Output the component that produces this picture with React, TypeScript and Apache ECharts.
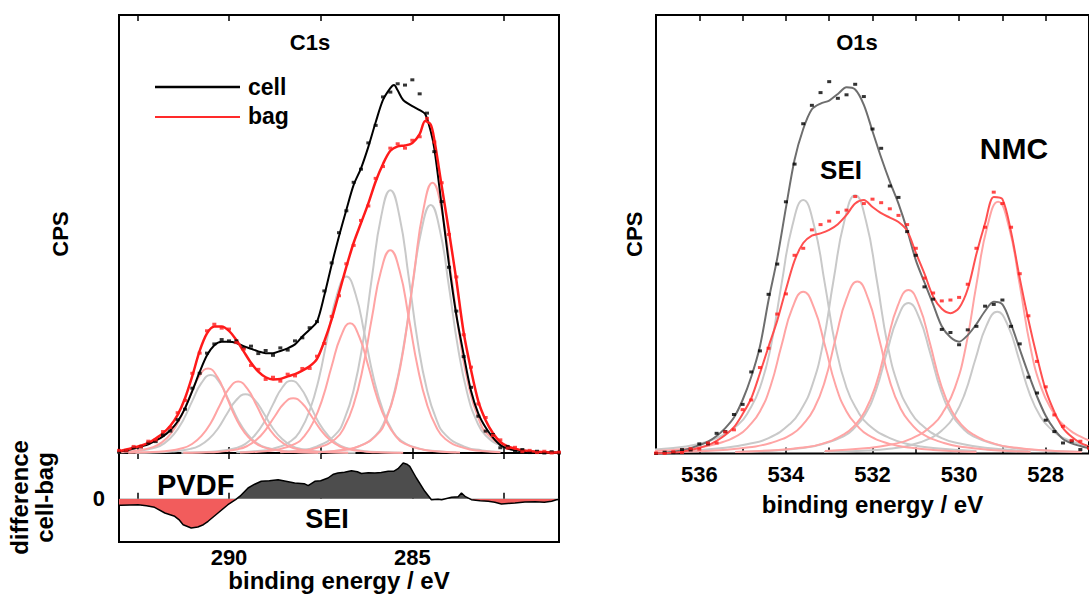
import React, { useEffect, useRef } from "react";
import * as echarts from "echarts";

const FONT = '"Liberation Sans", Arial, Helvetica, sans-serif';

// ---------- C1s (left panel) ----------
const c1sTickValues = [282.5, 285, 287.5, 290, 292.5];
const c1sLabelValues = [285, 290];

const c1sCellFit: number[][] = [[293,0.3],[292.8,0.6],[292.6,1.0],[292.4,1.5],[292.2,2.0],[292,2.8],[291.8,3.8],[291.6,5.2],[291.4,7.2],[291.2,10.2],[291,14.2],[290.8,18.5],[290.6,22.3],[290.4,24.6],[290.2,25.4],[290,25.4],[289.8,25.1],[289.6,24.4],[289.4,23.8],[289.2,23.2],[289,22.8],[288.8,22.8],[288.6,23.3],[288.4,23.9],[288.2,24.8],[288,26.6],[287.8,28.2],[287.6,30.0],[287.4,36.0],[287.2,43.0],[287,49.5],[286.8,55.5],[286.6,61.2],[286.4,65.0],[286.2,69.9],[286,75.5],[285.8,80.6],[285.6,83.3],[285.5,84.0],[285.4,82.8],[285.25,80.6],[285,79.2],[284.8,78.3],[284.65,77.4],[284.5,73.5],[284.4,69.5],[284.2,56.5],[284,43.0],[283.8,31.5],[283.6,22.5],[283.4,14.2],[283.2,9.0],[283,5.8],[282.8,3.5],[282.6,1.8],[282.4,1.0],[282.2,0.6],[282,0.4],[281.6,0.2],[281,0.1]];

const c1sBagFit: number[][] = [[293,0.4],[292.8,0.8],[292.6,1.2],[292.4,1.7],[292.2,2.3],[292,3.3],[291.8,4.5],[291.6,6.2],[291.4,8.7],[291.2,12.5],[291,17.6],[290.8,23.3],[290.6,27.3],[290.4,28.9],[290.2,28.9],[290,27.9],[289.8,25.8],[289.6,23.2],[289.4,20.6],[289.2,18.6],[289,17.3],[288.8,16.8],[288.6,16.9],[288.4,17.5],[288.2,18.0],[288,18.8],[287.8,19.8],[287.6,21.5],[287.4,25.5],[287.2,30.5],[287,36.5],[286.8,42.5],[286.6,48.0],[286.4,52.5],[286.2,57.0],[286,62.0],[285.8,66.0],[285.6,69.0],[285.4,70.0],[285.2,70.2],[285,70.8],[284.8,72.8],[284.65,75.8],[284.5,75.0],[284.4,71.5],[284.2,61.0],[284,50.5],[283.8,39.5],[283.6,27.5],[283.4,19.0],[283.2,11.8],[283,7.5],[282.8,4.5],[282.6,2.5],[282.4,1.5],[282.2,1.0],[282,0.6],[281.6,0.3],[281,0.1]];

const c1sCellDots: number[][] = [[293,0.2],[292.8,0.5],[292.6,1.2],[292.4,1.4],[292.2,2.3],[292,2.6],[291.8,4.1],[291.6,5.0],[291.4,7.6],[291.2,10.0],[291,14.8],[290.8,18.2],[290.6,22.8],[290.4,24.9],[290.2,25.9],[290,25.6],[289.8,25.6],[289.6,24.0],[289.4,24.4],[289.2,22.7],[289,23.4],[288.8,22.3],[288.6,24.0],[288.4,23.5],[288.2,25.6],[288,26.3],[287.8,28.6],[287.6,30.0],[287.4,37.0],[287.2,43.4],[287,50.3],[286.8,55.3],[286.6,61.8],[286.4,64.8],[286.2,70.8],[286,74.8],[285.8,81.3],[285.6,82.4],[285.4,84.3],[285.2,84.0],[285,85.2],[284.8,82.0],[284.6,77.6],[284.4,68.8],[284.2,57.4],[284,42.4],[283.8,32.4],[283.6,22.0],[283.4,15.0],[283.2,8.4],[283,5.0],[282.8,4.2],[282.6,1.2],[282.4,1.5],[282.2,0.3],[282,0.8],[281.8,0.1],[281.6,0.4],[281.4,0.0],[281.2,0.3],[281,0.0]];

const c1sBagDots: number[][] = [[293,0.6],[292.8,0.6],[292.6,1.5],[292.4,1.4],[292.2,2.7],[292,3.0],[291.8,4.9],[291.6,5.8],[291.4,9.2],[291.2,12.0],[291,18.2],[290.8,22.8],[290.6,27.9],[290.4,29.4],[290.2,28.5],[290,28.3],[289.8,25.2],[289.6,23.7],[289.4,20.0],[289.2,19.1],[289,16.8],[288.8,17.3],[288.6,16.4],[288.4,18.0],[288.2,17.6],[288,19.3],[287.8,19.3],[287.6,22.1],[287.4,25.0],[287.2,31.2],[287,35.9],[286.8,43.2],[286.6,47.4],[286.4,53.1],[286.2,56.4],[286,62.7],[285.8,65.4],[285.6,69.6],[285.4,70.6],[285.2,69.6],[285,71.4],[284.8,72.2],[284.6,76.4],[284.4,71.0],[284.2,61.7],[284,49.9],[283.8,40.2],[283.6,27.0],[283.4,19.6],[283.2,11.2],[283,8.1],[282.8,4.0],[282.6,3.0],[282.4,1.1],[282.2,1.3],[282,0.3],[281.8,0.6],[281.6,0.1],[281.4,0.4],[281.2,0.0],[281,0.2]];

const c1sCellPeak1: number[][] = [[287.5,0.07],[288,0.18],[288.5,0.45],[289,1.25],[289.25,2.3],[289.5,4.3],[289.75,7.5],[290,11.9],[290.25,16.0],[290.5,17.8],[290.75,16.0],[291,11.9],[291.25,7.5],[291.5,4.3],[291.75,2.3],[292,1.25],[292.5,0.45],[293,0.18]];
const c1sCellPeak2: number[][] = [[286.55,0.05],[287.05,0.13],[287.55,0.34],[288.05,0.94],[288.3,1.7],[288.55,3.2],[288.8,5.6],[289.05,9.0],[289.3,12.1],[289.55,13.4],[289.8,12.1],[290.05,9.0],[290.3,5.6],[290.55,3.2],[290.8,1.7],[291.05,0.94],[291.55,0.34],[292.05,0.13],[292.55,0.05]];
const c1sCellPeak3: number[][] = [[285.3,0.07],[285.8,0.17],[286.3,0.41],[286.8,1.16],[287.05,2.1],[287.3,4.0],[287.55,6.9],[287.8,11.1],[288.05,14.9],[288.3,16.5],[288.55,14.9],[288.8,11.1],[289.05,6.9],[289.3,4.0],[289.55,2.1],[289.8,1.16],[290.3,0.41],[290.8,0.17],[291.3,0.07]];
const c1sCellPeak4: number[][] = [[283.8,0.16],[284.3,0.4],[284.8,1.0],[285.3,2.8],[285.55,5.2],[285.8,9.7],[286.05,16.9],[286.3,27.0],[286.55,36.3],[286.8,40.3],[287.05,36.3],[287.3,27.0],[287.55,16.9],[287.8,9.7],[288.05,5.2],[288.3,2.8],[288.8,1.0],[289.3,0.4],[289.8,0.16]];
const c1sCellPeak5: number[][] = [[282.6,0.24],[283.1,0.6],[283.6,1.5],[284.1,4.2],[284.35,7.8],[284.6,14.4],[284.85,25.2],[285.1,40.2],[285.35,54],[285.6,60],[285.85,54],[286.1,40.2],[286.35,25.2],[286.6,14.4],[286.85,7.8],[287.1,4.2],[287.6,1.5],[288.1,0.6],[288.6,0.24]];
const c1sCellPeak6: number[][] = [[281.5,0.23],[282,0.57],[282.5,1.4],[283,4.0],[283.25,7.4],[283.5,13.6],[283.75,23.8],[284,37.9],[284.25,50.9],[284.5,56.6],[284.75,50.9],[285,37.9],[285.25,23.8],[285.5,13.6],[285.75,7.4],[286,4.0],[286.5,1.4],[287,0.57],[287.5,0.23]];

const c1sBagPeak1: number[][] = [[287.57,0.08],[288.07,0.19],[288.57,0.48],[289.07,1.35],[289.32,2.5],[289.57,4.6],[289.82,8.1],[290.07,12.9],[290.32,17.4],[290.57,19.3],[290.82,17.4],[291.07,12.9],[291.32,8.1],[291.57,4.6],[291.82,2.5],[292.07,1.35],[292.57,0.48],[293.07,0.19]];
const c1sBagPeak2: number[][] = [[286.75,0.07],[287.25,0.16],[287.75,0.41],[288.25,1.14],[288.5,2.1],[288.75,3.9],[289,6.8],[289.25,10.9],[289.5,14.7],[289.75,16.3],[290,14.7],[290.25,10.9],[290.5,6.8],[290.75,3.9],[291,2.1],[291.25,1.14],[291.75,0.41],[292.25,0.16],[292.75,0.07]];
const c1sBagPeak3: number[][] = [[285.25,0.05],[285.75,0.13],[286.25,0.31],[286.75,0.88],[287,1.6],[287.25,3.0],[287.5,5.3],[287.75,8.4],[288,11.3],[288.25,12.5],[288.5,11.3],[288.75,8.4],[289,5.3],[289.25,3.0],[289.5,1.6],[289.75,0.88],[290.25,0.31],[290.75,0.13],[291.25,0.05]];
const c1sBagPeak4: number[][] = [[283.7,0.12],[284.2,0.3],[284.7,0.74],[285.2,2.1],[285.45,3.8],[285.7,7.1],[285.95,12.4],[286.2,19.8],[286.45,26.6],[286.7,29.6],[286.95,26.6],[287.2,19.8],[287.45,12.4],[287.7,7.1],[287.95,3.8],[288.2,2.1],[288.7,0.74],[289.2,0.3],[289.7,0.12]];
const c1sBagPeak5: number[][] = [[282.6,0.19],[283.1,0.46],[283.6,1.16],[284.1,3.2],[284.35,6.0],[284.6,11.1],[284.85,19.4],[285.1,31.0],[285.35,41.7],[285.6,46.3],[285.85,41.7],[286.1,31.0],[286.35,19.4],[286.6,11.1],[286.85,6.0],[287.1,3.2],[287.6,1.16],[288.1,0.46],[288.6,0.19]];
const c1sBagPeak6: number[][] = [[281.45,0.25],[281.95,0.62],[282.45,1.54],[282.95,4.3],[283.2,8.0],[283.45,14.8],[283.7,25.9],[283.95,41.3],[284.2,55.5],[284.45,61.7],[284.7,55.5],[284.95,41.3],[285.2,25.9],[285.45,14.8],[285.7,8.0],[285.95,4.3],[286.45,1.54],[286.95,0.62],[287.45,0.25]];

// difference cell - bag
const c1sDiff: number[][] = [[293,-6.5],[292.94,-6.6],[292.7,-6.2],[292.48,-6.0],[292.25,-7.0],[292.03,-8.6],[291.75,-14.3],[291.48,-17.6],[291.35,-21.5],[291.25,-26],[291.03,-29.3],[290.85,-28.3],[290.7,-26.0],[290.57,-22.6],[290.3,-14.3],[290.03,-6],[289.82,-1],[289.7,2.5],[289.48,10.7],[289.3,14.5],[289.12,17.4],[288.9,18.0],[288.66,19],[288.45,17.5],[288.21,15.7],[287.95,15.0],[287.84,13.0],[287.66,17.4],[287.5,18.0],[287.3,20.7],[287.15,24.5],[287.03,25.7],[286.85,26.5],[286.66,28],[286.5,27.0],[286.39,25.2],[286.2,26.0],[286.02,25.7],[285.85,26.2],[285.66,27.4],[285.5,27.5],[285.39,30],[285.25,35.7],[285.15,34.5],[285.07,32.4],[284.89,20.7],[284.66,7.4],[284.48,-1],[284.3,-0.5],[284.2,-1],[283.93,1.4],[283.75,2.0],[283.66,5.7],[283.55,2.0],[283.39,-1],[283.15,-2.0],[282.93,-2.6],[282.75,-3.5],[282.57,-5.3],[282.4,-4.8],[282.2,-4.3],[281.93,-3.3],[281.65,-3.0],[281.4,-3.6],[281.2,-2.5],[281.07,-1],[281,-0.8]];

// ---------- O1s (right panel) ----------
const o1sLabelValues = [528, 530, 532, 534, 536];

const o1sCellFit: number[][] = [[537,0.1],[536.8,0.2],[536.6,0.4],[536.4,0.7],[536.2,1.2],[536,1.9],[535.8,2.7],[535.6,4.0],[535.4,5.8],[535.2,8.2],[535,12.2],[534.8,17.5],[534.6,24.4],[534.4,35.0],[534.2,44.5],[534,56.0],[533.8,67.0],[533.6,74.0],[533.4,78.5],[533.2,79.8],[533,80.5],[532.8,82.0],[532.6,83.5],[532.4,83.0],[532.2,79.5],[532,73.5],[531.8,67.5],[531.6,62.0],[531.4,57.0],[531.2,51.0],[531,44.1],[530.8,39.0],[530.6,34.0],[530.4,29.0],[530.2,26.5],[530,25.5],[529.8,27.0],[529.6,29.5],[529.4,32.5],[529.2,34.6],[529,34.0],[528.8,29.5],[528.6,23.8],[528.4,18.2],[528.2,13.0],[528,8.6],[527.8,5.5],[527.6,3.3],[527.4,2.3],[527.2,1.7],[527,1.2]];

const o1sBagFit: number[][] = [[537,0.0],[536.8,0.1],[536.6,0.2],[536.4,0.4],[536.2,0.8],[536,1.3],[535.8,1.9],[535.6,2.9],[535.4,4.2],[535.2,6.0],[535,9.0],[534.8,12.6],[534.6,18.3],[534.4,24.4],[534.2,30.3],[534,37.4],[533.8,44.0],[533.6,48.0],[533.4,49.7],[533.2,50.2],[533,51.0],[532.8,52.3],[532.6,54.4],[532.4,57.0],[532.2,57.8],[532,56.2],[531.8,54.8],[531.6,53.8],[531.4,52.8],[531.2,50.8],[531,45.8],[530.8,41.0],[530.6,35.8],[530.4,33.0],[530.2,32.0],[530,33.2],[529.8,37.5],[529.6,45.5],[529.4,52.5],[529.2,58.5],[529,58.0],[528.8,50.5],[528.6,40.0],[528.4,30.5],[528.2,22.0],[528,14.5],[527.8,9.5],[527.6,5.8],[527.4,3.8],[527.2,2.4],[527,1.6]];

const o1sCellDots: number[][] = [[537,0.0],[536.8,0.3],[536.6,0.2],[536.4,0.9],[536.2,0.8],[536,2.2],[535.8,2.2],[535.6,4.6],[535.4,5.0],[535.2,8.9],[535,11.2],[534.8,18.6],[534.6,23.4],[534.4,36.3],[534.2,43.2],[534,57.4],[533.8,66.0],[533.6,75.2],[533.4,79.4],[533.2,82.3],[533,84.8],[532.8,81.0],[532.6,81.8],[532.4,84.2],[532.2,81.4],[532,74.0],[531.8,69.6],[531.6,61.0],[531.4,58.4],[531.2,50.6],[531,45.2],[530.8,38.0],[530.6,35.2],[530.4,28.3],[530.2,27.6],[530,24.8],[529.8,28.2],[529.6,29.0],[529.4,33.6],[529.2,34.0],[529,35.0],[528.8,29.0],[528.6,25.0],[528.4,17.4],[528.2,13.8],[528,7.6],[527.8,5.0],[527.6,2.4],[527.4,2.8],[527.2,0.9],[527,1.4]];

const o1sBagDots: number[][] = [[537,0.1],[536.8,0.0],[536.6,0.4],[536.4,0.2],[536.2,1.1],[536,1.0],[535.8,2.4],[535.6,2.4],[535.4,4.9],[535.2,5.4],[535,10.0],[534.8,12.2],[534.6,19.6],[534.4,24.0],[534.2,31.8],[534,36.4],[533.8,45.2],[533.6,46.8],[533.4,51.0],[533.2,52.2],[533,53.0],[532.8,55.0],[532.6,55.5],[532.4,58.6],[532.2,57.0],[532,58.0],[531.8,57.2],[531.6,55.8],[531.4,54.3],[531.2,52.2],[531,46.8],[530.8,40.0],[530.6,36.6],[530.4,34.8],[530.2,35.0],[530,35.6],[529.8,38.6],[529.6,46.8],[529.4,51.6],[529.2,59.6],[529,57.0],[528.8,51.6],[528.6,41.0],[528.4,31.4],[528.2,21.0],[528,15.2],[527.8,8.8],[527.6,6.2],[527.4,3.0],[527.2,2.8],[527,1.2]];

const o1sCellPeak1: number[][] = [[529.6,0.58],[530.6,1.27],[531.1,2.0],[531.6,3.5],[532.1,6.6],[532.35,9.8],[532.6,15.0],[532.85,24.3],[533.1,38.7],[533.35,52.0],[533.6,57.8],[533.85,52.0],[534.1,38.7],[534.35,24.3],[534.6,15.0],[534.85,9.8],[535.1,6.6],[535.6,3.5],[536.1,2.0],[536.6,1.27],[537.6,0.58]];
const o1sCellPeak2: number[][] = [[528.4,0.59],[529.4,1.3],[529.9,2.1],[530.4,3.5],[530.9,6.8],[531.15,10.0],[531.4,15.3],[531.65,24.7],[531.9,39.5],[532.15,53.0],[532.4,58.9],[532.65,53.0],[532.9,39.5],[533.15,24.7],[533.4,15.3],[533.65,10.0],[533.9,6.8],[534.4,3.5],[534.9,2.1],[535.4,1.3],[536.4,0.59]];
const o1sCellPeak3: number[][] = [[527.17,0.34],[528.17,0.75],[528.67,1.2],[529.17,2.1],[529.67,3.9],[529.92,5.8],[530.17,8.9],[530.42,14.4],[530.67,23.0],[530.92,30.9],[531.17,34.3],[531.42,30.9],[531.67,23.0],[531.92,14.4],[532.17,8.9],[532.42,5.8],[532.67,3.9],[533.17,2.1],[533.67,1.2],[534.17,0.75],[535.17,0.34]];
const o1sCellPeak4: number[][] = [[525.12,0.32],[526.12,0.71],[526.62,1.1],[527.12,1.9],[527.62,3.7],[527.87,5.5],[528.12,8.4],[528.37,13.6],[528.62,21.6],[528.87,29.1],[529.12,32.3],[529.37,29.1],[529.62,21.6],[529.87,13.6],[530.12,8.4],[530.37,5.5],[530.62,3.7],[531.12,1.9],[531.62,1.1],[532.12,0.71],[533.12,0.32]];

const o1sBagPeak1: number[][] = [[529.6,0.37],[530.6,0.81],[531.1,1.3],[531.6,2.2],[532.1,4.2],[532.35,6.3],[532.6,9.6],[532.85,15.5],[533.1,24.7],[533.35,33.2],[533.6,36.9],[533.85,33.2],[534.1,24.7],[534.35,15.5],[534.6,9.6],[534.85,6.3],[535.1,4.2],[535.6,2.2],[536.1,1.3],[536.6,0.81],[537.6,0.37]];
const o1sBagPeak2: number[][] = [[528.35,0.39],[529.35,0.86],[529.85,1.4],[530.35,2.4],[530.85,4.5],[531.1,6.7],[531.35,10.2],[531.6,16.5],[531.85,26.3],[532.1,35.3],[532.35,39.2],[532.6,35.3],[532.85,26.3],[533.1,16.5],[533.35,10.2],[533.6,6.7],[533.85,4.5],[534.35,2.4],[534.85,1.4],[535.35,0.86],[536.35,0.39]];
const o1sBagPeak3: number[][] = [[527.17,0.37],[528.17,0.82],[528.67,1.3],[529.17,2.2],[529.67,4.3],[529.92,6.3],[530.17,9.7],[530.42,15.7],[530.67,25.0],[530.92,33.6],[531.17,37.3],[531.42,33.6],[531.67,25.0],[531.92,15.7],[532.17,9.7],[532.42,6.3],[532.67,4.3],[533.17,2.2],[533.67,1.3],[534.17,0.82],[535.17,0.37]];
const o1sBagPeak4: number[][] = [[525.1,0.57],[526.1,1.26],[526.6,2.0],[527.1,3.4],[527.6,6.6],[527.85,9.8],[528.1,14.9],[528.35,24.1],[528.6,38.5],[528.85,51.7],[529.1,57.4],[529.35,51.7],[529.6,38.5],[529.85,24.1],[530.1,14.9],[530.35,9.8],[530.6,6.6],[531.1,3.4],[531.6,2.0],[532.1,1.26],[533.1,0.57]];

const C_GRAY = "#c9c9c9";
const C_PINK = "#ffa4a4";

export default function App() {
  const ref = useRef<HTMLDivElement>(null);

  useEffect(() => {
    if (!ref.current) return;
    const chart = echarts.init(ref.current, null, { renderer: "svg" });

    const txt = (size: number) => ({ fontFamily: FONT, fontWeight: "bold" as const, fontSize: size, color: "#000" });

    const line = (data: number[][], xi: number, yi: number, color: string, width: number, smooth: number | boolean = 0.5) => ({
      type: "line", data, xAxisIndex: xi, yAxisIndex: yi, showSymbol: false, symbol: "none", smooth,
      lineStyle: { color, width }, silent: true, z: 2,
    });
    const dots = (data: number[][], xi: number, yi: number, color: string) => ({
      type: "scatter", data, xAxisIndex: xi, yAxisIndex: yi, symbol: "rect", symbolSize: [4, 3],
      itemStyle: { color }, silent: true, z: 4,
    });

    const series: any[] = [];
    [c1sCellPeak1, c1sCellPeak2, c1sCellPeak3, c1sCellPeak4, c1sCellPeak5, c1sCellPeak6].forEach((d) => series.push(line(d, 0, 0, C_GRAY, 2)));
    [c1sBagPeak1, c1sBagPeak2, c1sBagPeak3, c1sBagPeak4, c1sBagPeak5, c1sBagPeak6].forEach((d) => series.push(line(d, 0, 0, C_PINK, 2)));
    series.push({ ...line(c1sCellFit, 0, 0, "#000", 2, 0.3), z: 3 });
    series.push({ ...line(c1sBagFit, 0, 0, "#ff1a1a", 2.5, 0.3), z: 3 });
    series.push(dots(c1sCellDots, 0, 0, "#000"));
    series.push(dots(c1sBagDots, 0, 0, "#ff1a1a"));

    const diffFillIndex = series.length;
    series.push({
      type: "line", data: c1sDiff, xAxisIndex: 2, yAxisIndex: 1, symbol: "none", showSymbol: false,
      lineStyle: { width: 0 }, areaStyle: { opacity: 1 }, silent: true, z: 2,
    });
    series.push({ ...line(c1sDiff, 2, 1, "#000", 1.5, false), z: 3 });

    [o1sCellPeak1, o1sCellPeak2, o1sCellPeak3, o1sCellPeak4].forEach((d) => series.push(line(d, 4, 2, C_GRAY, 2)));
    [o1sBagPeak1, o1sBagPeak2, o1sBagPeak3, o1sBagPeak4].forEach((d) => series.push(line(d, 4, 2, C_PINK, 2)));
    series.push({ ...line(o1sCellFit, 4, 2, "#6e6e6e", 2, 0.3), z: 3 });
    series.push({ ...line(o1sBagFit, 4, 2, "#ff5050", 2, 0.3), z: 3 });
    series.push(dots(o1sCellDots, 4, 2, "#000"));
    series.push(dots(o1sBagDots, 4, 2, "#ff1a1a"));

    const tick = (custom?: number[]) => ({
      show: true, inside: true, length: 6, lineStyle: { color: "#000", width: 1.5 },
      ...(custom ? { customValues: custom } : {}),
    });
    const baseX = (grid: number, min: number, max: number) => ({
      type: "value", gridIndex: grid, min, max, inverse: true,
      axisLine: { show: false }, splitLine: { show: false },
    });

    const option: any = {
      animation: false,
      backgroundColor: "#fff",
      grid: [
        { left: 119, top: 15, width: 440, height: 438, show: true, borderColor: "#000", borderWidth: 2 },
        { left: 119, top: 453, width: 440, height: 89, show: true, borderColor: "#000", borderWidth: 2 },
        { left: 656, top: 15, width: 440, height: 438.5, show: true, borderColor: "#000", borderWidth: 2 },
      ],
      xAxis: [
        { ...baseX(0, 281, 293), position: "bottom", axisTick: tick(c1sTickValues), axisLabel: { show: false } },
        { ...baseX(0, 281, 293), position: "top", axisTick: tick(c1sTickValues), axisLabel: { show: false } },
        {
          ...baseX(1, 281, 293), position: "bottom", axisTick: tick(c1sTickValues),
          axisLabel: { ...txt(22), margin: 4, customValues: c1sLabelValues },
          name: "binding energy / eV", nameLocation: "middle", nameGap: 26, nameTextStyle: txt(24),
        },
        { ...baseX(1, 281, 293), position: "top", axisTick: tick(c1sTickValues), axisLabel: { show: false } },
        {
          ...baseX(2, 527, 537), position: "bottom", interval: 1, axisTick: tick(),
          axisLabel: { ...txt(22), margin: 10, customValues: o1sLabelValues },
          name: "binding energy / eV", nameLocation: "middle", nameGap: 39, nameTextStyle: txt(24),
        },
        { ...baseX(2, 527, 537), position: "top", interval: 1, axisTick: tick(), axisLabel: { show: false } },
      ],
      yAxis: [
        {
          type: "value", gridIndex: 0, min: 0, max: 100, axisLine: { show: false }, axisTick: { show: false },
          axisLabel: { show: false }, splitLine: { show: false },
          name: "CPS", nameLocation: "middle", nameRotate: 90, nameGap: 48, nameTextStyle: txt(22),
        },
        {
          type: "value", gridIndex: 1, min: -43.3, max: 45.7, axisLine: { show: false }, axisTick: { show: false },
          axisLabel: { ...txt(22), margin: 14, customValues: [0] }, splitLine: { show: false },
          name: "difference\ncell-bag", nameLocation: "middle", nameRotate: 90, nameGap: 62,
          nameTextStyle: { ...txt(24), lineHeight: 25 },
        },
        {
          type: "value", gridIndex: 2, min: 0, max: 100, axisLine: { show: false }, axisTick: { show: false },
          axisLabel: { show: false }, splitLine: { show: false },
          name: "CPS", nameLocation: "middle", nameRotate: 90, nameGap: 11, nameTextStyle: txt(22),
        },
      ],
      visualMap: [
        {
          type: "piecewise", show: false, seriesIndex: diffFillIndex, dimension: 1,
          pieces: [
            { gte: -100, lt: 0, color: "#f25c5c" },
            { gte: 0, lte: 100, color: "#4d4d4d" },
          ],
        },
      ],
      graphic: [
        { type: "line", shape: { x1: 155, y1: 87, x2: 240, y2: 87 }, style: { stroke: "#000", lineWidth: 2.5 }, silent: true },
        { type: "line", shape: { x1: 155, y1: 117, x2: 240, y2: 117 }, style: { stroke: "#ff2a2a", lineWidth: 2 }, silent: true },
        { type: "text", x: 248, y: 87, style: { text: "cell", font: `bold 23px ${FONT}`, fill: "#000", verticalAlign: "middle" }, silent: true },
        { type: "text", x: 248, y: 116, style: { text: "bag", font: `bold 23px ${FONT}`, fill: "#000", verticalAlign: "middle" }, silent: true },
        { type: "text", x: 310, y: 42, style: { text: "C1s", font: `bold 22px ${FONT}`, fill: "#000", align: "center", verticalAlign: "middle" }, silent: true },
        { type: "text", x: 857, y: 42, style: { text: "O1s", font: `bold 22px ${FONT}`, fill: "#000", align: "center", verticalAlign: "middle" }, silent: true },
        { type: "text", x: 157, y: 485, style: { text: "PVDF", font: `bold 29px ${FONT}`, fill: "#000", verticalAlign: "middle" }, silent: true },
        { type: "text", x: 327, y: 519, style: { text: "SEI", font: `bold 27px ${FONT}`, fill: "#000", align: "center", verticalAlign: "middle" }, silent: true },
        { type: "text", x: 841, y: 170, style: { text: "SEI", font: `bold 26px ${FONT}`, fill: "#000", align: "center", verticalAlign: "middle" }, silent: true },
        { type: "text", x: 1014, y: 148, style: { text: "NMC", font: `bold 30px ${FONT}`, fill: "#000", align: "center", verticalAlign: "middle" }, silent: true },
      ],
      series,
    };

    chart.setOption(option);
    return () => chart.dispose();
  }, []);

  return (
    <div
      ref={ref}
      style={{ position: "fixed", left: 0, top: 0, width: 1089, height: 605, background: "#fff", overflow: "hidden" }}
    />
  );
}
